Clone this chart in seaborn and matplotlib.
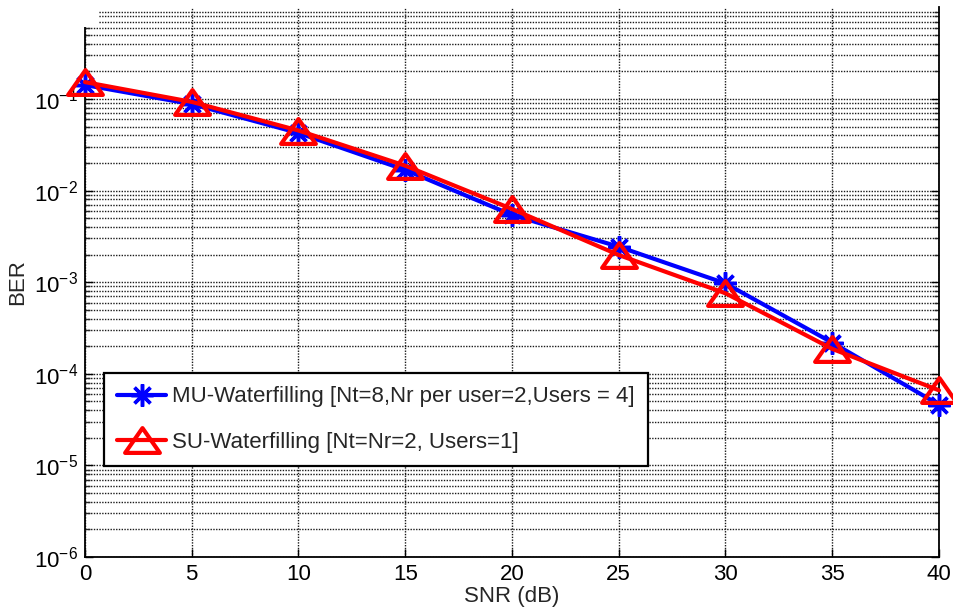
import numpy as np
import pandas as pd
import matplotlib
matplotlib.use("Agg")
import matplotlib.pyplot as plt
import seaborn as sns
from matplotlib.path import Path
from matplotlib.patches import Rectangle
from matplotlib import ticker

# ---- data ----
snr_db = [0, 5, 10, 15, 20, 25, 30, 35, 40]
ber_mu = [0.142, 0.088, 0.0425, 0.0168, 0.00542, 0.00244, 0.00097, 0.000219, 4.6e-5]
ber_su = [0.153, 0.093, 0.0453, 0.0187, 0.0063, 0.00198, 0.000757, 0.000187, 6.6e-5]
label_mu = "MU-Waterfilling [Nt=8,Nr per user=2,Users = 4]"
label_su = "SU-Waterfilling [Nt=Nr=2, Users=1]"
x_ticks = [0, 5, 10, 15, 20, 25, 30, 35, 40]
y_ticks = [1e-6, 1e-5, 1e-4, 1e-3, 1e-2, 1e-1]

sns.set_style("white")
plt.rcParams["font.family"] = ["Liberation Sans", "DejaVu Sans"]
plt.rcParams["mathtext.fontset"] = "custom"
plt.rcParams["mathtext.rm"] = "Liberation Sans"
plt.rcParams["mathtext.it"] = "Liberation Sans:italic"
plt.rcParams["mathtext.bf"] = "Liberation Sans:bold"
plt.rcParams["axes.unicode_minus"] = False

FS = 16
W, H = 954, 611
fig = plt.figure(figsize=(W / 100, H / 100), dpi=100)
ax = fig.add_axes([85 / W, 1 - 557 / H, (939 - 85) / W, (557 - 7.4) / H])

df = pd.DataFrame({"snr": snr_db, "mu": ber_mu, "su": ber_su})

# MATLAB-like wide hollow triangle
tri = Path([(-1.4, -1.0), (1.4, -1.0), (0.0, 1.0), (-1.4, -1.0)],
           [Path.MOVETO, Path.LINETO, Path.LINETO, Path.CLOSEPOLY])

sns.lineplot(data=df, x="snr", y="mu", ax=ax, color=(0, 0, 1), linewidth=3,
             marker=(8, 2, 0), markersize=16, markeredgewidth=2.5,
             markeredgecolor=(0, 0, 1), label=label_mu, clip_on=False, zorder=3)
sns.lineplot(data=df, x="snr", y="su", ax=ax, color=(1, 0, 0), linewidth=3,
             marker=tri, markersize=25, markeredgewidth=3,
             markerfacecolor="none", markeredgecolor=(1, 0, 0),
             label=label_su, clip_on=False, zorder=4)

ax.set_yscale("log")
ax.set_xlim(0, 40)
ax.set_ylim(1e-6, 1)
ax.set_xticks(x_ticks)
ax.set_yticks(y_ticks)
ax.yaxis.set_major_formatter(ticker.LogFormatterSciNotation())
ax.yaxis.set_minor_locator(ticker.LogLocator(base=10, subs=np.arange(2, 10), numticks=20))
ax.yaxis.set_minor_formatter(ticker.NullFormatter())

ax.grid(True, which="major", axis="both", color="#1a1a1a", linestyle=(0, (1, 1)), linewidth=1.0)
ax.grid(True, which="minor", axis="y", color="#1a1a1a", linestyle=(0, (1, 1)), linewidth=1.0)
ax.set_axisbelow(True)

ax.tick_params(axis="both", which="major", direction="in", length=6, width=1,
               labelsize=FS, pad=5, left=True, right=True, bottom=True, top=False,
               colors="black")
ax.tick_params(axis="y", which="minor", direction="in", length=3.5, width=1,
               left=True, right=True)

for side in ["left", "right", "bottom"]:
    ax.spines[side].set_color("black")
    ax.spines[side].set_linewidth(1.3)
ax.spines["top"].set_visible(False)

ax.set_xlabel("SNR (dB)", fontsize=FS, labelpad=1)
ax.set_ylabel("BER", fontsize=FS, labelpad=4)

leg = ax.legend(loc="upper left", bbox_to_anchor=(104 / W, 1 - 373 / H),
                bbox_transform=fig.transFigure, borderaxespad=0, fontsize=FS,
                frameon=True, fancybox=False, shadow=False, framealpha=1,
                edgecolor="black", handlelength=2.2, handletextpad=0.25,
                labelspacing=1.1, borderpad=0.6, numpoints=1)
leg.get_frame().set_linewidth(1.6)

# white patch masking the cropped top-left corner, as in the reference
fig.patches.append(Rectangle((0, 1 - 27 / H), 99 / W, 27 / H, transform=fig.transFigure,
                             facecolor="white", edgecolor="none", zorder=10))

fig.savefig("out.png", dpi=100)
